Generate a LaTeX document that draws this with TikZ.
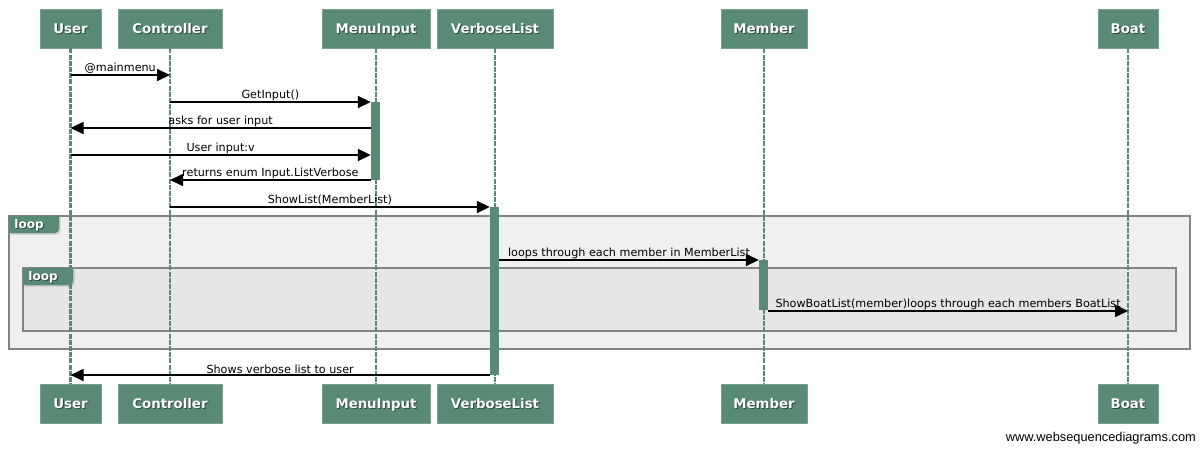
\documentclass[tikz,border=0pt]{standalone}
\usepackage{fontspec}
\setmainfont{DejaVu Sans}
\newfontfamily\wmfont{Liberation Sans}
\usetikzlibrary{arrows.meta,shadows}
\definecolor{headc}{HTML}{588A76}
\definecolor{shadc}{HTML}{2E4A3F}
\definecolor{outerfill}{HTML}{F0F0F0}
\definecolor{innerfill}{HTML}{E6E6E6}
\definecolor{framec}{HTML}{848484}
\newcommand{\shtxt}[1]{\makebox[0pt][l]{\kern1pt\raisebox{-1pt}{\color{shadc}#1}}#1}
\tikzset{
  headbox/.style={fill=headc, draw=headc!80!white, line width=0.6pt, text=white,
    font=\fontsize{13.3}{15}\selectfont\bfseries, inner sep=0pt, minimum height=39pt,
    text height=9.7pt, text depth=0pt},
  lifeline/.style={draw=headc, line width=2.4pt, dash pattern=on 5pt off 1.2pt},
  actbar/.style={fill=headc, draw=none, minimum width=9pt, inner sep=0pt},
  msg/.style={draw=black, line width=1.7pt, -{Triangle[length=13pt,width=12pt]}},
  lbl/.style={font=\fontsize{11.2}{13}\selectfont, inner sep=0pt, above=0.8pt},
  framebox/.style={draw=framec, line width=1.8pt},
  tagtext/.style={text=white, font=\fontsize{12}{14}\selectfont\bfseries, inner sep=0pt,
    text height=8.8pt, text depth=0pt}
}
\begin{document}
\begin{tikzpicture}[x=1pt,y=-1pt]
\useasboundingbox[fill=white] (0,0) rectangle (1200,448);

% loop frames
\draw[framebox, fill=outerfill] (9,216) rectangle (1190,349);
\fill[headc, drop shadow={shadow xshift=1.5pt, shadow yshift=-1.5pt, opacity=0.35}]
  (9,216) -- (59,216) [rounded corners=4pt] -- (59,233) [sharp corners] -- (9,233) -- cycle;
\node[tagtext] (tag1) at (29,224.5) {\shtxt{loop}};
\draw[framebox, fill=innerfill] (23,268) rectangle (1176,331);
\fill[headc, drop shadow={shadow xshift=1.5pt, shadow yshift=-1.5pt, opacity=0.35}]
  (23,268) -- (73,268) [rounded corners=4pt] -- (73,285) [sharp corners] -- (23,285) -- cycle;
\node[tagtext] (tag2) at (43,276.5) {\shtxt{loop}};

% heads top
\node[headbox, minimum width=61pt]  (uT) at (70.5,28.5)  {\shtxt{User}};
\node[headbox, minimum width=104pt] (cT) at (170,28.5)   {\shtxt{Controller}};
\node[headbox, minimum width=108pt] (mT) at (376,28.5)   {\shtxt{MenuInput}};
\node[headbox, minimum width=116pt] (vT) at (495,28.5)   {\shtxt{VerboseList}};
\node[headbox, minimum width=86pt]  (bT) at (764,28.5)   {\shtxt{Member}};
\node[headbox, minimum width=60pt]  (oT) at (1128,28.5)  {\shtxt{Boat}};
% heads bottom
\node[headbox, minimum width=61pt]  (uB) at (70.5,404)  {\shtxt{User}};
\node[headbox, minimum width=104pt] (cB) at (170,404)   {\shtxt{Controller}};
\node[headbox, minimum width=108pt] (mB) at (376,404)   {\shtxt{MenuInput}};
\node[headbox, minimum width=116pt] (vB) at (495,404)   {\shtxt{VerboseList}};
\node[headbox, minimum width=86pt]  (bB) at (764,404)   {\shtxt{Member}};
\node[headbox, minimum width=60pt]  (oB) at (1128,404)  {\shtxt{Boat}};

% lifelines
\draw[lifeline] (uT.south) -- (uB.north);
\draw[lifeline] (cT.south) -- (cB.north);
\draw[lifeline] (mT.south) -- (mB.north);
\draw[lifeline] (vT.south) -- (vB.north);
\draw[lifeline] (bT.south) -- (bB.north);
\draw[lifeline] (oT.south) -- (oB.north);

% activation bars
\node[actbar, minimum height=78pt]  (aM) at (375.5,141) {};
\node[actbar, minimum height=168pt] (aV) at (494.5,291) {};
\node[actbar, minimum height=50pt]  (aB) at (763.5,285) {};

% messages
\draw[msg] (uT |- {0,75}) -- node[lbl] {@mainmenu} (cT |- {0,75});
\draw[msg] (cT |- {0,102}) -- node[lbl] {GetInput()} (aM.west |- {0,102});
\draw[msg] (aM.west |- {0,128}) -- node[lbl] {asks for user input} (uT |- {0,128});
\draw[msg] (uT |- {0,155}) -- node[lbl] {User input:v} (aM.west |- {0,155});
\draw[msg] (aM.west |- {0,180}) -- node[lbl] {returns enum Input.ListVerbose} (cT |- {0,180});
\draw[msg] (cT |- {0,207}) -- node[lbl] {ShowList(MemberList)} (aV.west |- {0,207});
\draw[msg] (aV.east |- {0,260}) -- node[lbl] {loops through each member in MemberList} (aB.west |- {0,260});
\draw[msg] (aB.east |- {0,311}) -- node[lbl] {ShowBoatList(member)loops through each members BoatList} (oT |- {0,311});
\draw[msg] (aV.west |- {0,375}) -- node[lbl] {Shows verbose list to user} (uT |- {0,375});

% watermark
\node[anchor=east, inner sep=0pt, font=\wmfont\fontsize{12.8}{14}\selectfont] (wm) at (1196,438) {www.websequencediagrams.com};
\end{tikzpicture}
\end{document}
